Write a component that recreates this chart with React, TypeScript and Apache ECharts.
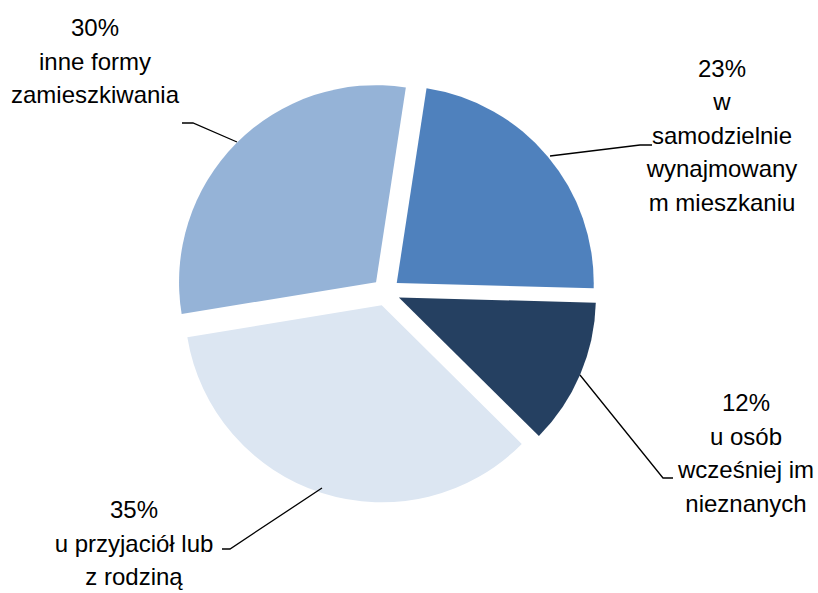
import React, { useEffect, useRef } from "react";
import * as echarts from "echarts";

const categories = [
  "w\nsamodzielnie\nwynajmowany\nm mieszkaniu",
  "u osób\nwcześniej im\nnieznanych",
  "u przyjaciół lub\nz rodziną",
  "inne formy\nzamieszkiwania",
];
const values = [23, 12, 35, 30];
const colors = ["#4F81BD", "#254061", "#DCE6F2", "#95B3D7"];

// label placement (center of text block) and leader-line points
const labelPos = [
  { x: 722, y: 135, line: [[550, 156], [640, 145], [652, 145]] },
  { x: 746, y: 453, line: [[580, 375], [663, 478], [673, 478]] },
  { x: 134, y: 543, line: [[322, 488], [230, 549], [222, 549]] },
  { x: 95, y: 61, line: [[237, 142], [193, 123], [182, 123]] },
];

export default function App() {
  const ref = useRef<HTMLDivElement>(null);
  useEffect(() => {
    document.body.style.margin = "0";
    const chart = echarts.init(ref.current!, undefined, { renderer: "svg" });
    const common = {
      type: "pie",
      center: [386, 292],
      radius: [0, 197],
      startAngle: 81.3,
      clockwise: true,
      avoidLabelOverlap: false,
      emphasis: { disabled: true },
    };
    chart.setOption({
      animation: false,
      backgroundColor: "#ffffff",
      series: [
        {
          ...common,
          selectedMode: "multiple",
          selectedOffset: 14,
          itemStyle: { borderWidth: 0 },
          label: { show: false },
          labelLine: { show: false },
          data: categories.map((name, i) => ({
            name,
            value: values[i],
            selected: true,
            itemStyle: { color: colors[i] },
            select: { itemStyle: { color: colors[i], borderWidth: 0 } },
          })),
        },
        {
          ...common,
          silent: true,
          selectedMode: false,
          z: 3,
          itemStyle: { color: "rgba(0,0,0,0)", borderWidth: 0 },
          data: categories.map((name, i) => ({ name, value: values[i] })),
          label: {
            show: true,
            formatter: (p: any) => `${p.value}%\n${p.name}`,
            fontFamily: "'Liberation Sans', Arial, sans-serif",
            fontSize: 24,
            lineHeight: 33.5,
            color: "#000000",
            align: "center",
          },
          labelLine: {
            show: true,
            lineStyle: { color: "#000000", width: 1.3 },
          },
          labelLayout: (params: any) => {
            const lp = labelPos[params.dataIndex];
            return {
              x: lp.x,
              y: lp.y,
              align: "center",
              verticalAlign: "middle",
              labelLinePoints: lp.line,
            };
          },
        },
      ],
    });
    return () => chart.dispose();
  }, []);
  return <div ref={ref} style={{ width: 818, height: 593 }} />;
}
